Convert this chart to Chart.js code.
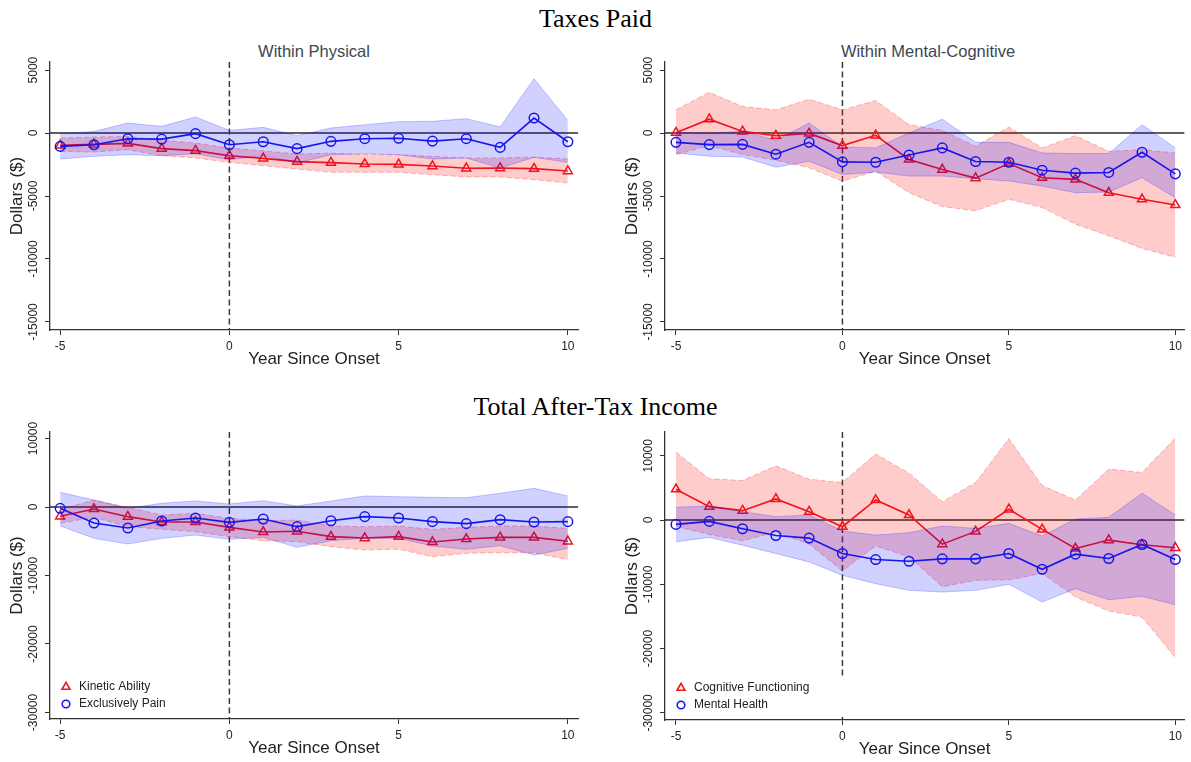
<!DOCTYPE html>
<html>
<head>
<meta charset="utf-8">
<script src="https://cdn.jsdelivr.net/npm/chart.js@4.4.1/dist/chart.umd.min.js"></script>
<style>
  html, body { margin: 0; padding: 0; background: #fff; width: 1191px; height: 762px; overflow: hidden; position: relative; }
  canvas { position: absolute; }
  .main { position: absolute; left: 0; width: 1191px; text-align: center; font-family: "Liberation Serif", "Times New Roman", serif; font-size: 26px; line-height: 30px; color: #000; }
  .sub { position: absolute; text-align: center; font-family: "Liberation Sans", Arial, sans-serif; font-size: 16.5px; line-height: 20px; color: #3c4650; }
</style>
</head>
<body>
<div class="main" style="top:4px">Taxes Paid</div>
<div class="main" style="top:392px">Total After-Tax Income</div>
<div class="sub" style="left:50px;width:528px;top:41px">Within Physical</div>
<div class="sub" style="left:665px;width:526px;top:41px">Within Mental-Cognitive</div>

<canvas id="taxPhys" width="615" height="340" style="left:0;top:40px"></canvas>
<canvas id="taxMent" width="576" height="340" style="left:615px;top:40px"></canvas>
<canvas id="incPhys" width="615" height="369" style="left:0;top:400px"></canvas>
<canvas id="incMent" width="576" height="370" style="left:615px;top:400px"></canvas>

<script>
// Event-study estimates by year relative to onset, with 95% confidence bands
const years = [-5, -4, -3, -2, -1, 0, 1, 2, 3, 4, 5, 6, 7, 8, 9, 10];
const xTicks = [-5, 0, 5, 10];
const taxTicks = [-15000, -10000, -5000, 0, 5000];
const incomeTicks = [-30000, -20000, -10000, 0, 10000];
const onsetYear = 0;
const baselineValue = 0;

const physicalLabels = ['Kinetic Ability', 'Exclusively Pain'];
const mentalLabels = ['Cognitive Functioning', 'Mental Health'];

// Taxes paid, within physical
const taxKinetic   = [-980, -900, -820, -1240, -1400, -1800, -2010, -2270, -2350, -2460, -2490, -2620, -2800, -2780, -2830, -3020];
const taxKineticHi = [-400, -320, -270, -580, -790, -1190, -1400, -1670, -1590, -1720, -1720, -1850, -1980, -1980, -1900, -2060];
const taxKineticLo = [-1460, -1510, -1320, -1800, -1980, -2330, -2590, -2860, -3120, -3120, -3120, -3310, -3490, -3490, -3700, -3970];
const taxPain      = [-1060, -930, -450, -480, -50, -930, -690, -1240, -660, -450, -420, -640, -450, -1140, 1190, -690];
const taxPainHi    = [-50, 130, 790, 530, 1270, 210, 450, -210, 400, 660, 900, 930, 1140, 480, 4310, 1000];
const taxPainLo    = [-2060, -1850, -1720, -1800, -1640, -2120, -1800, -2380, -1720, -1640, -1720, -2060, -1980, -2780, -1930, -2330];

// Taxes paid, within mental-cognitive
const taxCognitive   = [30, 1100, 130, -210, -30, -1000, -180, -2100, -2900, -3580, -2420, -3550, -3680, -4740, -5260, -5710];
const taxCognitiveHi = [1840, 3240, 2100, 1840, 2680, 1840, 2580, 660, 210, -1050, 470, -1180, -210, -1450, -1320, -1580];
const taxCognitiveLo = [-1710, -1000, -1710, -2160, -2760, -3820, -3030, -4740, -5840, -6180, -5260, -5920, -7240, -8160, -9160, -9870];
const taxMental      = [-740, -920, -900, -1680, -740, -2290, -2320, -1740, -1180, -2260, -2320, -2950, -3180, -3130, -1530, -3240];
const taxMentalHi    = [50, 0, 130, -580, 790, -1100, -1180, 0, 1100, -740, -740, -1580, -1630, -1630, 660, -1180];
const taxMentalLo    = [-1580, -1840, -1900, -2710, -2240, -3290, -3100, -3420, -3420, -3630, -3810, -4210, -4740, -4680, -3550, -5130];

// Total after-tax income, within physical
const incKinetic   = [-1360, -290, -1410, -2190, -2190, -2970, -3650, -3550, -4330, -4530, -4330, -5110, -4670, -4430, -4430, -5010];
const incKineticHi = [-340, 1020, -50, -1170, -920, -1650, -2000, -1900, -2770, -2870, -2770, -3260, -2970, -2770, -2770, -3110];
const incKineticLo = [-2380, -1510, -2870, -3260, -3600, -4330, -4910, -5060, -5790, -6280, -6180, -7250, -6760, -6670, -6670, -7690];
const incPain      = [-190, -2340, -3070, -2040, -1610, -2240, -1750, -2870, -2000, -1410, -1610, -2140, -2430, -1850, -2190, -2140];
const incPainHi    = [2140, 1020, -190, 540, 880, 440, 920, 150, 880, 1610, 1510, 1410, 1360, 2000, 2720, 1610];
const incPainLo    = [-2770, -4570, -5400, -4570, -4090, -4720, -4430, -5890, -4910, -4570, -4570, -5690, -6180, -5640, -7010, -6030];

// Total after-tax income, within mental-cognitive
const incCognitive   = [4790, 2080, 1460, 3280, 1300, -1040, 3120, 780, -3750, -1770, 1670, -1460, -4430, -3120, -3850, -4320];
const incCognitiveHi = [10570, 6410, 6150, 8440, 6350, 5830, 10260, 7290, 2860, 5830, 12660, 5360, 3120, 7920, 7400, 12760];
const incCognitiveLo = [-990, -2250, -3230, -1880, -3750, -7910, -4020, -5730, -10360, -9370, -9320, -8280, -11980, -14160, -15100, -21400];
const incMental      = [-680, -210, -1350, -2400, -2810, -5210, -6150, -6410, -6040, -6040, -5210, -7660, -5310, -5990, -3800, -6150];
const incMentalHi    = [1980, 2190, 1300, 520, 780, -1720, -2340, -1980, -940, -1300, -520, -2500, 160, 420, 4170, 780];
const incMentalLo    = [-3390, -2710, -3910, -5210, -6510, -8590, -9900, -10940, -11200, -10940, -10000, -12760, -10680, -12400, -11870, -13180];

const FONT = '"Liberation Sans", Arial, sans-serif';
const RED = 'rgb(240,20,28)';
const BLUE = 'rgb(22,22,236)';
const RED_FILL = 'rgba(255,0,0,0.2)';
const BLUE_FILL = 'rgba(0,0,255,0.18)';
const RED_EDGE = 'rgba(255,0,0,0.28)';
const BLUE_EDGE = 'rgba(0,0,255,0.22)';

function pts(vals) { return years.map((x, i) => ({ x: x, y: vals[i] })); }

function band(hi, lo, fill, edge, dash, order) {
  return [
    { data: pts(hi), fill: '+1', backgroundColor: fill, borderColor: edge, borderWidth: 1, borderDash: dash, pointRadius: 0, pointHoverRadius: 0, order: order },
    { data: pts(lo), fill: false, borderColor: edge, borderWidth: 1, borderDash: dash, pointRadius: 0, pointHoverRadius: 0, order: order }
  ];
}

function series(vals, label, color, style, radius, order) {
  return {
    label: label, data: pts(vals), fill: false, borderColor: color, borderWidth: 1.6,
    pointStyle: style, pointRadius: radius, pointBorderWidth: 1.5, pointBorderColor: color,
    pointBackgroundColor: 'rgba(0,0,0,0)', order: order
  };
}

// zero line and dashed onset line, placed through the scales
const refLines = {
  id: 'refLines',
  beforeDatasetsDraw(chart) {
    const { ctx, chartArea: a, scales: { x, y } } = chart;
    const x0 = x.getPixelForValue(onsetYear);
    const y0 = y.getPixelForValue(baselineValue);
    ctx.save();
    ctx.strokeStyle = '#2a2a2a';
    ctx.lineWidth = 1.5;
    ctx.beginPath(); ctx.moveTo(a.left, y0); ctx.lineTo(a.right, y0); ctx.stroke();
    ctx.strokeStyle = '#3a3a3a';
    ctx.setLineDash([6, 3.5]);
    ctx.beginPath(); ctx.moveTo(x0, a.top); ctx.lineTo(x0, a.bottom); ctx.stroke();
    ctx.restore();
  }
};

// legend box in the lower-left corner of the plot region
const insetLegend = {
  id: 'insetLegend',
  afterDraw(chart, args, opts) {
    if (!opts.show) return;
    const { ctx, chartArea: a } = chart;
    const items = opts.labels.map(l => chart.data.datasets.find(d => d.label === l));
    ctx.save();
    ctx.font = '12px ' + FONT;
    const wMax = Math.max(...items.map(d => ctx.measureText(d.label).width));
    const rowH = 17;
    const left = a.left + 5;
    const bottom = a.bottom - 3;
    const top = bottom - 41;
    ctx.fillStyle = '#fff';
    ctx.fillRect(left, top, 29 + wMax + 40, bottom - top);
    items.forEach((d, i) => {
      const cy = a.bottom - 32 + i * rowH;
      const mx = a.left + 16;
      ctx.strokeStyle = d.pointBorderColor;
      ctx.lineWidth = 1.6;
      ctx.beginPath();
      if (d.pointStyle === 'triangle') {
        const r = 4.6;
        ctx.moveTo(mx, cy - r);
        ctx.lineTo(mx + r * 0.866, cy + r * 0.5);
        ctx.lineTo(mx - r * 0.866, cy + r * 0.5);
        ctx.closePath();
      } else {
        ctx.arc(mx, cy, 3.8, 0, Math.PI * 2);
      }
      ctx.stroke();
      ctx.fillStyle = '#222';
      ctx.textBaseline = 'middle';
      ctx.textAlign = 'left';
      ctx.fillText(d.label, a.left + 29, cy);
    });
    ctx.restore();
  }
};

function makePanel(id, cfg) {
  const datasets = [
    series(cfg.blue, cfg.labels[1], BLUE, 'circle', 4.8, 0),
    series(cfg.red, cfg.labels[0], RED, 'triangle', 5.2, 2)
  ].concat(band(cfg.blueHi, cfg.blueLo, BLUE_FILL, BLUE_EDGE, [], 1))
   .concat(band(cfg.redHi, cfg.redLo, RED_FILL, RED_EDGE, [5, 3], 3));

  return new Chart(document.getElementById(id), {
    type: 'line',
    data: { datasets: datasets },
    plugins: [refLines, insetLegend],
    options: {
      responsive: false,
      animation: false,
      devicePixelRatio: 1,
      layout: { padding: { left: 0, right: cfg.padRight, top: cfg.padTop, bottom: 0 } },
      elements: { line: { tension: 0 } },
      plugins: {
        legend: { display: false },
        tooltip: { enabled: false },
        insetLegend: { show: cfg.legend, labels: cfg.labels }
      },
      scales: {
        x: {
          type: 'linear', min: cfg.xMin, max: cfg.xMax,
          afterBuildTicks: s => { s.ticks = xTicks.map(v => ({ value: v })); },
          afterFit: s => { s.height = 50; },
          border: { display: true, color: '#333', width: 1.3 },
          grid: { drawOnChartArea: false, drawTicks: true, tickLength: 5, tickColor: '#333', tickWidth: 1 },
          ticks: { minRotation: 0, maxRotation: 0, autoSkip: false, padding: 4, color: '#222', font: { family: FONT, size: 12 }, callback: v => String(v) },
          title: { display: true, text: 'Year Since Onset', color: '#222', font: { family: FONT, size: 17 }, padding: { top: 0, bottom: 10 } }
        },
        y: {
          type: 'linear', min: cfg.yMin, max: cfg.yMax,
          afterBuildTicks: s => { s.ticks = cfg.yTicks.map(v => ({ value: v })); },
          afterFit: s => { s.width = 50; },
          border: { display: true, color: '#333', width: 1.3 },
          grid: { drawOnChartArea: false, drawTicks: true, tickLength: 5, tickColor: '#333', tickWidth: 1 },
          ticks: { minRotation: 90, maxRotation: 90, crossAlign: 'center', autoSkip: false, padding: -7, color: '#222', font: { family: FONT, size: 12 }, callback: v => String(v) },
          title: { display: true, text: 'Dollars ($)', color: '#222', font: { family: FONT, size: 17 }, padding: { top: 7, bottom: 0 } }
        }
      }
    }
  });
}

makePanel('taxPhys', {
  red: taxKinetic, redHi: taxKineticHi, redLo: taxKineticLo,
  blue: taxPain, blueHi: taxPainHi, blueLo: taxPainLo,
  labels: physicalLabels, legend: false, yTicks: taxTicks,
  xMin: -5.3, xMax: 10.3, yMin: -15640, yMax: 5640, padTop: 22, padRight: 37
});
makePanel('taxMent', {
  red: taxCognitive, redHi: taxCognitiveHi, redLo: taxCognitiveLo,
  blue: taxMental, blueHi: taxMentalHi, blueLo: taxMentalLo,
  labels: mentalLabels, legend: false, yTicks: taxTicks,
  xMin: -5.33, xMax: 10.27, yMin: -15640, yMax: 5640, padTop: 22, padRight: 0
});
makePanel('incPhys', {
  red: incKinetic, redHi: incKineticHi, redLo: incKineticLo,
  blue: incPain, blueHi: incPainHi, blueLo: incPainLo,
  labels: physicalLabels, legend: true, yTicks: incomeTicks,
  xMin: -5.3, xMax: 10.3, yMin: -30950, yMax: 10950, padTop: 32, padRight: 37
});
makePanel('incMent', {
  red: incCognitive, redHi: incCognitiveHi, redLo: incCognitiveLo,
  blue: incMental, blueHi: incMentalHi, blueLo: incMentalLo,
  labels: mentalLabels, legend: true, yTicks: incomeTicks,
  xMin: -5.33, xMax: 10.27, yMin: -31100, yMax: 13690, padTop: 32, padRight: 0
});
</script>
</body>
</html>
